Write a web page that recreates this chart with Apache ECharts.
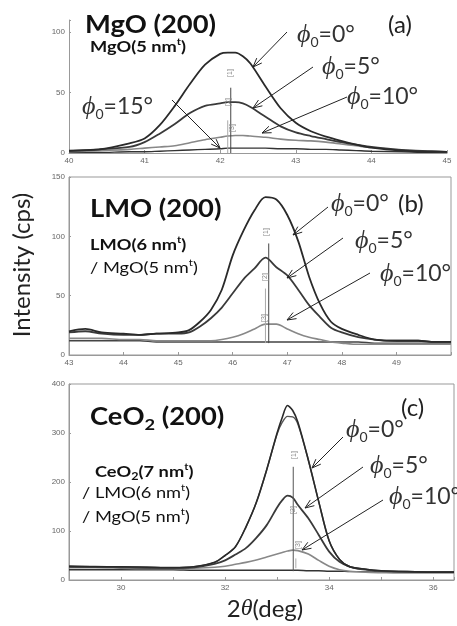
<!DOCTYPE html>
<html>
<head>
<meta charset="utf-8">
<script src="https://cdn.jsdelivr.net/npm/echarts@6/dist/echarts.min.js"></script>
<style>
  html, body { margin: 0; padding: 0; background: #fff; }
  #xrd { width: 457px; height: 626px; }
</style>
</head>
<body>
<div id="xrd"></div>
<script>
// (a) MgO(200)
const angleA = [40.0, 40.4, 40.8, 41.0, 41.2, 41.4, 41.6, 41.8, 42.0, 42.1, 42.2, 42.3, 42.4, 42.6, 42.8, 43.0, 43.2, 43.4, 43.6, 43.8, 44.0, 44.4, 44.8, 45.0]
const mgo0 = [2, 3, 8, 12, 23, 39, 57, 73, 82, 83, 83, 80, 74, 55, 37, 25, 18, 13.5, 10, 7, 4.5, 2, 1, 1]
const mgo5 = [1.5, 3, 5, 9, 16, 24, 33, 39, 41, 42, 42, 41, 38, 30, 22, 17, 14, 11.5, 9, 7, 5, 2.5, 1.5, 1]
const mgo10 = [1, 2, 3, 4, 5, 6, 8.5, 11, 13, 14, 14.5, 14.5, 14, 13, 11.5, 10.5, 10, 9, 7.5, 6, 4.5, 2.5, 1.5, 1]
const mgo15 = [0.5, 0.5, 1, 1, 1.5, 2, 2.5, 3, 3.5, 4, 4, 4, 4, 4, 3.5, 3.5, 3, 3, 2.5, 2, 1.5, 1, 0.5, 0.5]
const peakA = [42.14, 42.1]
const peakALo = [0, 0]
const peakAHi = [54, 27]

// (b) LMO(200)
const angleB = [43.0, 43.3, 43.6, 44.0, 44.3, 44.6, 45.0, 45.2, 45.4, 45.6, 45.8, 46.0, 46.2, 46.4, 46.6, 46.8, 47.0, 47.2, 47.4, 47.6, 47.8, 48.0, 48.3, 48.6, 49.0, 49.4, 49.7, 50.0]
const lmo0 = [20, 22, 19, 18, 17, 18, 19, 21, 28, 38, 55, 84, 105, 122, 133, 131, 118, 96, 66, 43, 28, 22, 17, 13, 12, 12, 11, 11]
const lmo5 = [19, 20, 18, 17, 17, 18, 18, 19, 24, 31, 40, 52, 64, 73, 82, 74, 67, 55, 42, 32, 23, 19, 15, 13, 12, 12, 11, 11]
const lmo10 = [14, 14, 14, 13, 13, 12, 12, 12, 12, 12, 13, 15, 18, 22, 26, 26, 22, 18, 15, 13, 11, 10, 9, 9, 9, 9, 9, 9]
const lmoBg = [12, 12, 12, 12, 12, 11, 11, 11, 11, 11, 11, 11, 11, 11, 11, 11, 11, 11, 11, 11, 11, 11, 11, 10, 10, 10, 10, 10]
const peakB = [46.66, 46.6]
const peakBLo = [10, 10]
const peakBHi = [94, 56]

// (c) CeO2(200)
const angleC = [29.0, 29.5, 30.0, 30.5, 31.0, 31.4, 31.8, 32.0, 32.2, 32.4, 32.6, 32.8, 33.0, 33.1, 33.2, 33.3, 33.4, 33.6, 33.8, 34.0, 34.2, 34.4, 34.7, 35.0, 35.5, 36.0, 36.4]
const ceo0 = [28, 27, 27, 26, 25, 27, 36, 50, 68, 108, 158, 225, 300, 332, 356, 346, 322, 245, 160, 80, 42, 27, 22, 19, 17, 16, 16]
const ceo0b = [28, 27, 27, 26, 25, 27, 36, 50, 68, 108, 158, 225, 298, 322, 334, 333, 318, 245, 160, 80, 42, 27, 22, 19, 17, 16, 16]
const ceo5 = [27, 27, 26, 25, 25, 26, 33, 40, 52, 65, 86, 112, 148, 163, 172, 168, 153, 126, 92, 58, 37, 27, 21, 18, 17, 16, 16]
const ceo10 = [25, 25, 24, 23, 23, 24, 26, 28, 32, 36, 41, 47, 53, 56, 59, 61, 60, 53, 40, 28, 21, 18, 16, 15, 15, 15, 15]
const ceoBg = [21, 21, 21, 21, 21, 20, 20, 20, 20, 20, 20, 20, 20, 20, 20, 20, 20, 19, 19, 18, 18, 17, 17, 16, 15, 15, 15]
const peakC = [33.31, 33.36]
const peakCLo = [18, 24]
const peakCHi = [231, 44]

const chart = echarts.init(document.getElementById('xrd'))

const curve = (xs, ys, idx, color, width) => ({
  type: 'line',
  xAxisIndex: idx,
  yAxisIndex: idx,
  data: xs.map((x, i) => [x, ys[i]]),
  showSymbol: false,
  smooth: 0.3,
  silent: true,
  lineStyle: { color: color, width: width }
})
const peakLine = (x, lo, hi, idx, color) => ({
  type: 'line',
  xAxisIndex: idx,
  yAxisIndex: idx,
  data: [[x, lo], [x, hi]],
  showSymbol: false,
  silent: true,
  lineStyle: { color: color, width: 1 }
})

const tickFont = { fontSize: 8, color: '#666', fontFamily: 'Liberation Sans', margin: 4 }
const xAxis = (idx, min, max, step) => ({
  type: 'value', gridIndex: idx, min: min, max: max, interval: 1,
  axisLine: { show: true, onZero: false, lineStyle: { color: '#999' } },
  axisTick: { show: true, inside: true, length: 3, lineStyle: { color: '#999' } },
  splitLine: { show: false },
  axisLabel: Object.assign({}, tickFont, {
    formatter: v => v % step === 0 && v < max ? v : ''
  })
})
const yAxis = (idx, max, step) => ({
  type: 'value', gridIndex: idx, min: 0, max: max, interval: step,
  axisLine: { show: true, lineStyle: { color: '#999' } },
  axisTick: { show: true, inside: true, length: 2, lineStyle: { color: '#999' } },
  splitLine: { show: false },
  axisLabel: Object.assign({}, tickFont, { formatter: v => v % step === 0 ? v : '' })
})

// 注記（矢印・ラベル）はピクセル位置
const arrow = (x1, y1, x2, y2) => {
  const a = Math.atan2(y2 - y1, x2 - x1), L = 9, W = 3.5
  const bx = x2 - L * Math.cos(a), by = y2 - L * Math.sin(a)
  return [
    { type: 'line', shape: { x1: x1, y1: y1, x2: x2, y2: y2 }, style: { stroke: '#222', lineWidth: 1 }, z: 100 },
    { type: 'polyline', z: 100,
      shape: { points: [[bx - W * Math.sin(a), by + W * Math.cos(a)], [x2, y2], [bx + W * Math.sin(a), by - W * Math.cos(a)]] },
      style: { stroke: '#222', fill: null, lineWidth: 1 } }
  ]
}
const phiRich = {
  p: { fontFamily: 'Liberation Serif, DejaVu Serif', fontStyle: 'italic', fontSize: 26, fill: '#333' },
  s: { fontFamily: 'Lato', fontSize: 14, fill: '#333', verticalAlign: 'bottom', lineHeight: 28 },
  t: { fontFamily: 'Lato', fontSize: 23, fill: '#333' }
}
const phi = (x, y, deg) => ({
  type: 'text', x: x, y: y, z: 100,
  style: { text: '{p|ϕ}{s|0}{t|=' + deg + '°}', rich: phiRich, verticalAlign: 'middle', fill: '#333' }
})
const txtRich = {
  b: { fontFamily: 'Lato', fontWeight: 'bold', fontSize: 16, fill: '#111' },
  r: { fontFamily: 'Lato', fontSize: 16, fill: '#111' },
  sb: { fontFamily: 'Lato', fontWeight: 'bold', fontSize: 10, fill: '#111', verticalAlign: 'top', lineHeight: 20 },
  sr: { fontFamily: 'Lato', fontSize: 10, fill: '#111', verticalAlign: 'top', lineHeight: 20 },
  db: { fontFamily: 'Lato', fontWeight: 'bold', fontSize: 11, fill: '#111', verticalAlign: 'bottom', lineHeight: 20 },
  T: { fontFamily: 'Lato', fontWeight: 'bold', fontSize: 24, fill: '#111' },
  TS: { fontFamily: 'Lato', fontWeight: 'bold', fontSize: 16, fill: '#111', verticalAlign: 'bottom', lineHeight: 32 }
}
// 元図は横に少し引き伸ばされているので scaleX で合わせる
const txt = (x, y, text) => ({
  type: 'text', x: x, y: y, z: 100, scaleX: 1.14,
  style: { text: text, rich: txtRich, verticalAlign: 'middle', fill: '#111' }
})
const plain = (x, y, text, size) => ({
  type: 'text', x: x, y: y, z: 100,
  style: { text: text, font: size + 'px Lato', fill: '#222', verticalAlign: 'middle' }
})
const tag = (x, y, text) => ({
  type: 'text', x: x, y: y, rotation: Math.PI / 2, z: 90,
  style: { text: text, font: '7px Liberation Sans', fill: '#888', align: 'center', verticalAlign: 'middle' }
})

const graphics = [].concat(
  txt(85, 25, '{T|MgO (200)}'),
  txt(90, 47, '{b|MgO(5 nm}{sb|t}{b|)}'),
  plain(388, 25, '(a)', 24),
  phi(297, 35, 0), phi(322, 67, 5), phi(347, 97, 10), phi(82, 107, 15),
  arrow(287, 32, 253, 67), arrow(313, 67, 253, 108), arrow(347, 97, 262, 133), arrow(172, 100, 220, 148),
  tag(230, 73, '[1]'), tag(228, 102, '[2]'), tag(232, 128, '[3]'),

  txt(90, 209, '{T|LMO (200)}'),
  txt(90, 245, '{b|LMO(6 nm}{sb|t}{b|)}'),
  txt(90, 268, '{r|/ MgO(5 nm}{sr|t}{r|)}'),
  plain(398, 204, '(b)', 24),
  phi(331, 204, 0), phi(355, 241, 5), phi(380, 274, 10),
  arrow(328, 207, 293, 235), arrow(343, 238, 287, 278), arrow(370, 273, 287, 320),
  tag(266, 232, '[1]'), tag(265, 277, '[2]'), tag(264, 318, '[3]'),

  txt(90, 417, '{T|CeO}{TS|2}{T| (200)}'),
  txt(95, 472, '{b|CeO}{db|2}{b|(7 nm}{sb|t}{b|)}'),
  txt(82, 493, '{r|/ LMO(6 nm}{sr|t}{r|)}'),
  txt(82, 517, '{r|/ MgO(5 nm}{sr|t}{r|)}'),
  plain(401, 408, '(c)', 24),
  phi(346, 430, 0), phi(370, 466, 5), phi(389, 497, 10),
  arrow(343, 437, 312, 468), arrow(363, 467, 305, 508), arrow(383, 500, 302, 550),
  tag(294, 455, '[1]'), tag(293, 510, '[2]'), tag(298, 545, '[3]'),

  {
    type: 'text', x: 22, y: 265, rotation: Math.PI / 2, z: 100,
    style: { text: 'Intensity (cps)', font: '24px Lato', fill: '#222', align: 'center', verticalAlign: 'middle' }
  },
  {
    type: 'text', x: 265, y: 609, z: 100,
    style: {
      text: '{a|2}{th|θ}{a|(deg)}', align: 'center', verticalAlign: 'middle',
      rich: {
        a: { fontFamily: 'Lato', fontSize: 24, fill: '#222' },
        th: { fontFamily: 'Liberation Serif', fontStyle: 'italic', fontSize: 24, fill: '#222' }
      }
    }
  }
)

const options = {
  animation: false,
  grid: [
    { left: 69, top: 20, width: 378, height: 133 },
    { left: 69, top: 177, width: 382, height: 178, show: true, borderColor: '#999', borderWidth: 1 },
    { left: 69, top: 384, width: 386, height: 196, show: true, borderColor: '#999', borderWidth: 1 }
  ],
  xAxis: [xAxis(0, 40, 45.001, 1), xAxis(1, 43, 50, 1), xAxis(2, 29, 36.4, 2)],
  yAxis: [yAxis(0, 110, 50), yAxis(1, 150, 50), yAxis(2, 400, 100)],
  series: [
    curve(angleA, mgo15, 0, '#333', 1.4),
    curve(angleA, mgo10, 0, '#888', 1.6),
    curve(angleA, mgo5, 0, '#3a3a3a', 1.8),
    curve(angleA, mgo0, 0, '#2a2a2a', 1.8),
    peakLine(peakA[0], peakALo[0], peakAHi[0], 0, '#444'),
    peakLine(peakA[1], peakALo[1], peakAHi[1], 0, '#aaa'),

    curve(angleB, lmoBg, 1, '#444', 1.4),
    curve(angleB, lmo10, 1, '#888', 1.6),
    curve(angleB, lmo5, 1, '#3a3a3a', 1.8),
    curve(angleB, lmo0, 1, '#2a2a2a', 1.8),
    peakLine(peakB[0], peakBLo[0], peakBHi[0], 1, '#444'),
    peakLine(peakB[1], peakBLo[1], peakBHi[1], 1, '#aaa'),

    curve(angleC, ceoBg, 2, '#333', 1.4),
    curve(angleC, ceo10, 2, '#888', 1.6),
    curve(angleC, ceo5, 2, '#3a3a3a', 1.8),
    curve(angleC, ceo0b, 2, '#555', 1.4),
    curve(angleC, ceo0, 2, '#2a2a2a', 1.6),
    peakLine(peakC[0], peakCLo[0], peakCHi[0], 2, '#555'),
    peakLine(peakC[1], peakCLo[1], peakCHi[1], 2, '#aaa')
  ],
  graphic: graphics
}
chart.setOption(options)
</script>
</body>
</html>
